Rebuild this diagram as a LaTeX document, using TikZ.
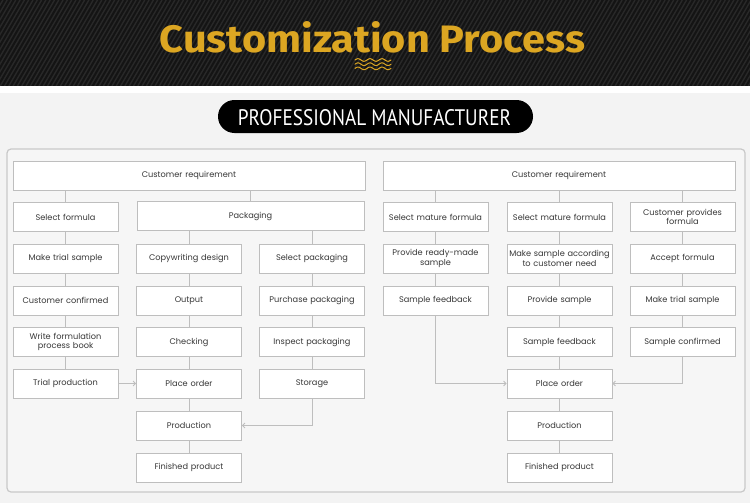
\documentclass[tikz,border=0pt]{standalone}
\usepackage{fontspec}
\usetikzlibrary{arrows.meta}
\newfontfamily\boxfont{Poppins}
\newfontfamily\titlefont{Fira Sans}
\newfontfamily\pillfont{PT Sans}
\definecolor{bandcolor}{RGB}{20,20,20}
\definecolor{stripecolor}{RGB}{40,40,40}
\definecolor{goldcolor}{RGB}{220,166,34}
\definecolor{pagecolor}{RGB}{243,243,243}
\definecolor{panelcolor}{RGB}{246,246,246}
\definecolor{linecolor}{RGB}{190,190,190}
\definecolor{textcolor}{RGB}{55,55,55}

\begin{document}
\begin{tikzpicture}[
			x=1pt,y=-1pt,
			stepbox/.style={
				draw=linecolor,
				line width=0.8pt,
				fill=white,
				align=center,
				text width=104pt,
				minimum width=105pt,
				minimum height=29pt,
				inner sep=0.5pt,
				text=textcolor,
				font=\boxfont\fontsize{8.2}{9.6}\selectfont
			},
			widebox/.style={
				stepbox,
				text width=340pt
			},
			steplink/.style={
				draw=linecolor,
				line width=0.8pt
			},
			steparrow/.style={
				steplink,
				-{Straight Barb[length=2.5pt,width=5pt]}
			}
			]
			\useasboundingbox (0,0) rectangle (750,503);
			
			% Header
			\fill[pagecolor] (0,93) rectangle (750,503);
			\fill[white] (0,86) rectangle (750,93);
			\fill[bandcolor] (0,0) rectangle (750,86);
			\begin{scope}
				\clip (0,0) rectangle (750,86);
				\foreach \i in {-60,-55.7,...,760}
				\draw[stripecolor,line width=1.4pt] (\i,86) -- (\i+50,0);
			\end{scope}
			
			\node[inner sep=0pt,text=goldcolor] (title) at (372.5,37.5)
			{\resizebox{425pt}{31pt}{\titlefont\bfseries Customization Process}};
			
			\foreach \w in {60,64.2,68.4}
			\draw[goldcolor,line width=1pt,line cap=round]
			plot[domain=0:36,samples=60] ({355+\x},{\w-1.3*sin(\x*30)});
			
			\node[fill=black,rounded corners=16.5pt,minimum width=315pt,
			minimum height=33pt,inner sep=0pt] (pill) at (375.5,116.5) {};
			\node[inner sep=0pt,text=white] (pilltext) at (374.5,118)
			{\resizebox{273pt}{16pt}{\pillfont PROFESSIONAL MANUFACTURER}};
			
			% Panel
			\draw[draw=linecolor!85,fill=panelcolor,line width=1.2pt,rounded corners=4pt]
			(7,149) rectangle (745,492);
			
			% Left part
			\node[widebox,minimum width=352pt] (reqL) at (189,175.5) {Customer requirement};
			
			\node[stepbox] (formula) at (65.5,217) {Select formula};
			\node[widebox,minimum width=227pt,text width=220pt] (packaging) at (250.5,216) {Packaging};
			
			\node[stepbox] (trialL) at (65.5,258.5) {Make trial sample};
			\node[stepbox] (copy) at (189,258.5) {Copywriting design};
			\node[stepbox] (selpack) at (312,258.5) {Select packaging};
			
			\node[stepbox] (custconf) at (65.5,300.5) {Customer confirmed};
			\node[stepbox] (output) at (189,300.5) {Output};
			\node[stepbox] (purchase) at (312,300.5) {Purchase packaging};
			
			\node[stepbox] (book) at (65.5,342) {Write formulation\\process book};
			\node[stepbox] (checking) at (189,342) {Checking};
			\node[stepbox] (inspect) at (312,342) {Inspect packaging};
			
			\node[stepbox] (trialprod) at (65.5,383.5) {Trial production};
			\node[stepbox] (orderL) at (189,383.5) {Place order};
			\node[stepbox] (storage) at (312,383.5) {Storage};
			
			\node[stepbox] (prodL) at (189,425.5) {Production};
			\node[stepbox] (finL) at (189,467.5) {Finished product};
			
			% Right part
			\node[widebox,minimum width=352pt] (reqR) at (559,175.5) {Customer requirement};
			
			\node[stepbox] (matureA) at (435.5,217) {Select mature formula};
			\node[stepbox] (matureB) at (559.5,217) {Select mature formula};
			\node[stepbox] (provides) at (682.5,217) {Customer provides\\formula};
			
			\node[stepbox] (readymade) at (435.5,258.5) {Provide ready-made\\sample};
			\node[stepbox] (makesample) at (559.5,258.5) {Make sample according\\to customer need};
			\node[stepbox] (accept) at (682.5,258.5) {Accept formula};
			
			\node[stepbox] (feedbackA) at (435.5,300.5) {Sample feedback};
			\node[stepbox] (provide) at (559.5,300.5) {Provide sample};
			\node[stepbox] (trialR) at (682.5,300.5) {Make trial sample};
			
			\node[stepbox] (feedbackB) at (559.5,342) {Sample feedback};
			\node[stepbox] (confirmed) at (682.5,342) {Sample confirmed};
			
			\node[stepbox] (orderR) at (559.5,383.5) {Place order};
			\node[stepbox] (prodR) at (559.5,425.5) {Production};
			\node[stepbox] (finR) at (559.5,467.5) {Finished product};
			
			% Left links
			\draw[steplink] (reqL.south -| formula) -- (formula.north);
			\draw[steplink] (reqL.south -| packaging) -- (packaging.north);
			\draw[steplink] (packaging.south -| copy) -- (copy.north);
			\draw[steplink] (packaging.south -| selpack) -- (selpack.north);
			\foreach \a/\b in {formula/trialL,trialL/custconf,custconf/book,book/trialprod,
				copy/output,output/checking,checking/orderL,orderL/prodL,prodL/finL,
				selpack/purchase,purchase/inspect,inspect/storage}
			\draw[steplink] (\a.south) -- (\b.north);
			
			\draw[steparrow]
			(trialprod.east) --
			(orderL.west);
			
			\draw[steparrow]
			(storage.south) |-
			(prodL.east);
			
			% Right links
			\draw[steplink] (reqR.south -| matureA) -- (matureA.north);
			\draw[steplink] (reqR.south -| matureB) -- (matureB.north);
			\draw[steplink] (reqR.south -| provides) -- (provides.north);
			\foreach \a/\b in {matureA/readymade,readymade/feedbackA,
				matureB/makesample,makesample/provide,provide/feedbackB,feedbackB/orderR,
				orderR/prodR,prodR/finR,
				provides/accept,accept/trialR,trialR/confirmed}
			\draw[steplink] (\a.south) -- (\b.north);
			
			\draw[steparrow]
			(feedbackA.south) |-
			(orderR.west);
			
			\draw[steparrow]
			(confirmed.south) |-
			(orderR.east);
			
		\end{tikzpicture}
\end{document}
